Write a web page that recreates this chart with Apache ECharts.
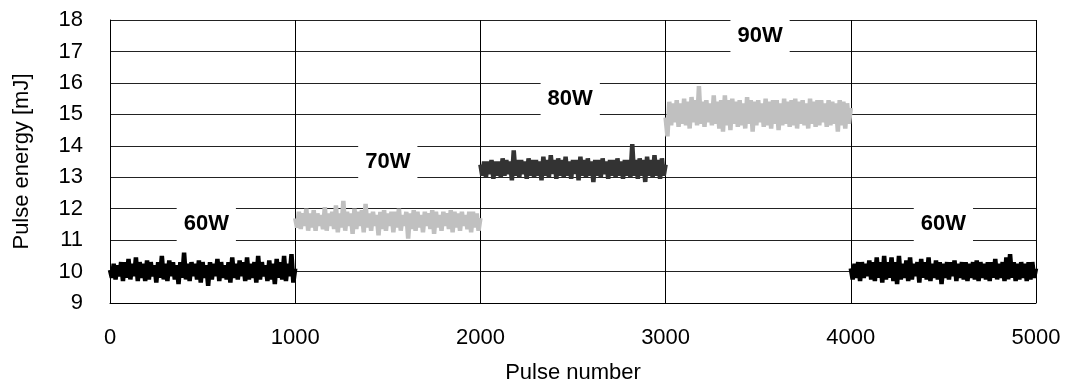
<!DOCTYPE html>
<html>
<head>
<meta charset="utf-8">
<script src="https://cdn.jsdelivr.net/npm/echarts@6/dist/echarts.min.js"></script>
<style>
  html, body { margin: 0; padding: 0; background: #fff; }
  #chart { width: 1066px; height: 384px; }
</style>
</head>
<body>
<div id="chart"></div>
<script>
// pulse energy readings (mJ), sampled along each 1000-pulse run
const seg60a = [10.05, 9.8, 10.25, 9.75, 10.2, 9.85, 10.3, 9.7, 10.3, 9.8, 10.4, 9.75, 10.25, 9.85, 10.45, 9.7, 10.3, 9.8, 10.25, 9.7, 10.35, 9.75, 10.3, 9.85, 10.2, 9.65, 10.3, 9.8, 10.5, 9.75, 10.25, 9.7, 10.35, 9.85, 10.3, 9.75, 10.2, 9.6, 10.3, 9.8, 10.6, 9.75, 10.25, 9.7, 10.3, 9.85, 10.25, 9.75, 10.35, 9.65, 10.3, 9.8, 10.2, 9.55, 10.3, 9.75, 10.25, 9.85, 10.4, 9.7, 10.3, 9.8, 10.2, 9.75, 10.3, 9.65, 10.45, 9.8, 10.25, 9.75, 10.35, 9.85, 10.3, 9.7, 10.45, 9.75, 10.25, 9.8, 10.3, 9.65, 10.5, 9.75, 10.3, 9.85, 10.2, 9.7, 10.35, 9.75, 10.25, 9.6, 10.4, 9.8, 10.3, 9.75, 10.5, 9.7, 10.25, 9.85, 10.55, 9.65, 10.1];
const seg70 = [11.7, 11.4, 11.9, 11.35, 11.85, 11.45, 12.0, 11.3, 11.85, 11.4, 11.95, 11.3, 11.85, 11.45, 11.8, 11.35, 12.05, 11.3, 11.85, 11.45, 11.9, 11.35, 12.1, 11.25, 11.85, 11.4, 12.25, 11.3, 11.9, 11.45, 11.85, 11.2, 12.0, 11.35, 11.9, 11.45, 11.95, 11.25, 12.15, 11.4, 11.85, 11.3, 11.9, 11.45, 11.8, 11.15, 11.9, 11.35, 11.95, 11.3, 11.85, 11.45, 11.9, 11.25, 11.9, 11.4, 12.0, 11.3, 11.8, 11.45, 11.9, 11.05, 11.85, 11.35, 11.95, 11.3, 11.9, 11.4, 11.8, 11.25, 11.9, 11.45, 11.85, 11.35, 11.95, 11.2, 11.9, 11.4, 11.8, 11.3, 11.9, 11.45, 11.85, 11.35, 11.95, 11.25, 11.9, 11.4, 11.85, 11.3, 11.9, 11.45, 11.8, 11.35, 11.9, 11.25, 11.9, 11.4, 11.85, 11.3, 11.7];
const seg80 = [13.4, 13.05, 13.5, 13.0, 13.5, 13.1, 13.55, 12.95, 13.5, 13.05, 13.5, 13.0, 13.6, 13.05, 13.55, 13.1, 13.5, 12.9, 13.85, 13.05, 13.55, 13.0, 13.55, 13.1, 13.5, 12.95, 13.6, 13.05, 13.55, 13.0, 13.55, 13.05, 13.5, 12.9, 13.65, 13.05, 13.55, 13.0, 13.7, 13.1, 13.55, 12.95, 13.6, 13.05, 13.55, 13.0, 13.65, 13.05, 13.5, 12.95, 13.55, 13.1, 13.55, 12.9, 13.65, 13.05, 13.55, 13.0, 13.6, 13.05, 13.5, 12.85, 13.55, 13.05, 13.55, 13.0, 13.6, 13.1, 13.5, 12.95, 13.55, 13.05, 13.55, 13.0, 13.6, 13.05, 13.5, 12.95, 13.55, 13.05, 13.55, 13.0, 14.05, 13.05, 13.55, 12.95, 13.6, 13.05, 13.55, 12.85, 13.65, 13.05, 13.55, 13.0, 13.7, 13.05, 13.55, 12.95, 13.6, 13.05, 13.4];
const seg90 = [14.9, 14.3, 15.4, 14.65, 15.35, 14.75, 15.45, 14.6, 15.35, 14.7, 15.5, 14.65, 15.4, 14.55, 15.55, 14.75, 15.45, 14.65, 15.9, 14.7, 15.4, 14.6, 15.45, 14.75, 15.35, 14.65, 15.6, 14.7, 15.4, 14.55, 15.45, 14.45, 15.6, 14.65, 15.45, 14.5, 15.5, 14.7, 15.4, 14.6, 15.45, 14.65, 15.35, 14.55, 15.55, 14.7, 15.45, 14.45, 15.4, 14.65, 15.45, 14.75, 15.35, 14.6, 15.5, 14.65, 15.4, 14.55, 15.45, 14.7, 15.45, 14.5, 15.35, 14.65, 15.5, 14.7, 15.4, 14.6, 15.45, 14.65, 15.5, 14.55, 15.4, 14.7, 15.45, 14.65, 15.35, 14.55, 15.5, 14.7, 15.4, 14.6, 15.45, 14.65, 15.45, 14.75, 15.35, 14.6, 15.45, 14.65, 15.4, 14.7, 15.35, 14.45, 15.45, 14.65, 15.4, 14.55, 15.35, 14.7, 15.2];
const seg60b = [10.1, 9.75, 10.25, 9.8, 10.3, 9.7, 10.3, 9.8, 10.25, 9.85, 10.35, 9.75, 10.3, 9.7, 10.45, 9.8, 10.3, 9.65, 10.5, 9.75, 10.3, 9.8, 10.45, 9.7, 10.3, 9.6, 10.5, 9.75, 10.25, 9.8, 10.35, 9.7, 10.45, 9.75, 10.25, 9.85, 10.3, 9.65, 10.4, 9.8, 10.3, 9.75, 10.45, 9.7, 10.25, 9.8, 10.35, 9.75, 10.3, 9.6, 10.25, 9.8, 10.3, 9.75, 10.3, 9.85, 10.35, 9.7, 10.25, 9.8, 10.3, 9.75, 10.3, 9.7, 10.25, 9.8, 10.3, 9.75, 10.35, 9.7, 10.3, 9.8, 10.25, 9.75, 10.3, 9.7, 10.3, 9.8, 10.4, 9.75, 10.25, 9.8, 10.3, 9.7, 10.45, 9.75, 10.55, 9.8, 10.3, 9.7, 10.25, 9.75, 10.3, 9.8, 10.25, 9.7, 10.3, 9.75, 10.3, 9.8, 10.1];

const segStarts = [0, 1000, 2000, 3000, 4000];
const segValues = [seg60a, seg70, seg80, seg90, seg60b];
const segColors = ['#000000', '#c0c0c0', '#333333', '#c0c0c0', '#000000'];
const runLength = 1000;

// power labels: [pulse, energy, text]
const powerLabels = [
    [520, 11.5, '60W'],
    [1500, 13.5, '70W'],
    [2485, 15.5, '80W'],
    [3510, 17.5, '90W'],
    [4500, 11.5, '60W']
];

const font = "'Liberation Sans', Arial, sans-serif";

function toPoints(start, values) {
    const step = runLength / (values.length - 1);
    return values.map(function (v, i) { return [start + i * step, v]; });
}

const chart = echarts.init(document.getElementById('chart'));

const series = segValues.map(function (vals, k) {
    return {
        type: 'line',
        data: toPoints(segStarts[k], vals),
        showSymbol: false,
        symbol: 'none',
        silent: true,
        animation: false,
        lineStyle: { color: segColors[k], width: 4.5 }
    };
});

series.push({
    type: 'scatter',
    data: powerLabels,
    symbolSize: 0,
    silent: true,
    animation: false,
    z: 5,
    itemStyle: { opacity: 1, color: 'transparent' },
    label: {
        show: true,
        position: 'inside',
        formatter: function (p) { return p.data[2]; },
        fontFamily: font,
        fontSize: 22,
        fontWeight: 'bold',
        color: '#000',
        opacity: 1,
        backgroundColor: '#fff',
        padding: [8, 7]
    }
});

chart.setOption({
    backgroundColor: '#fff',
    animation: false,
    grid: { left: 110, right: 30, top: 20, bottom: 81, outerBoundsMode: 'none', containLabel: false },
    xAxis: {
        type: 'value',
        min: 0,
        max: 5000,
        interval: 1000,
        name: 'Pulse number',
        nameLocation: 'middle',
        nameGap: 59,
        nameTextStyle: { fontFamily: font, fontSize: 22, color: '#000' },
        axisLine: { show: true, onZero: false, lineStyle: { color: '#000', width: 1 } },
        axisTick: { show: false },
        axisLabel: {
            fontFamily: font, fontSize: 22, color: '#000', margin: 24,
            formatter: function (v) { return String(v); }
        },
        splitLine: { show: true, lineStyle: { color: '#000', width: 1 } }
    },
    yAxis: {
        type: 'value',
        min: 9,
        max: 18,
        interval: 1,
        name: 'Pulse energy [mJ]',
        nameLocation: 'middle',
        nameGap: 77,
        nameTextStyle: { fontFamily: font, fontSize: 22, color: '#000' },
        axisLine: { show: true, onZero: false, lineStyle: { color: '#000', width: 1 } },
        axisTick: { show: false },
        axisLabel: { fontFamily: font, fontSize: 22, color: '#000', margin: 27 },
        splitLine: { show: true, lineStyle: { color: '#222', width: 1 } }
    },
    series: series
});
</script>
</body>
</html>
